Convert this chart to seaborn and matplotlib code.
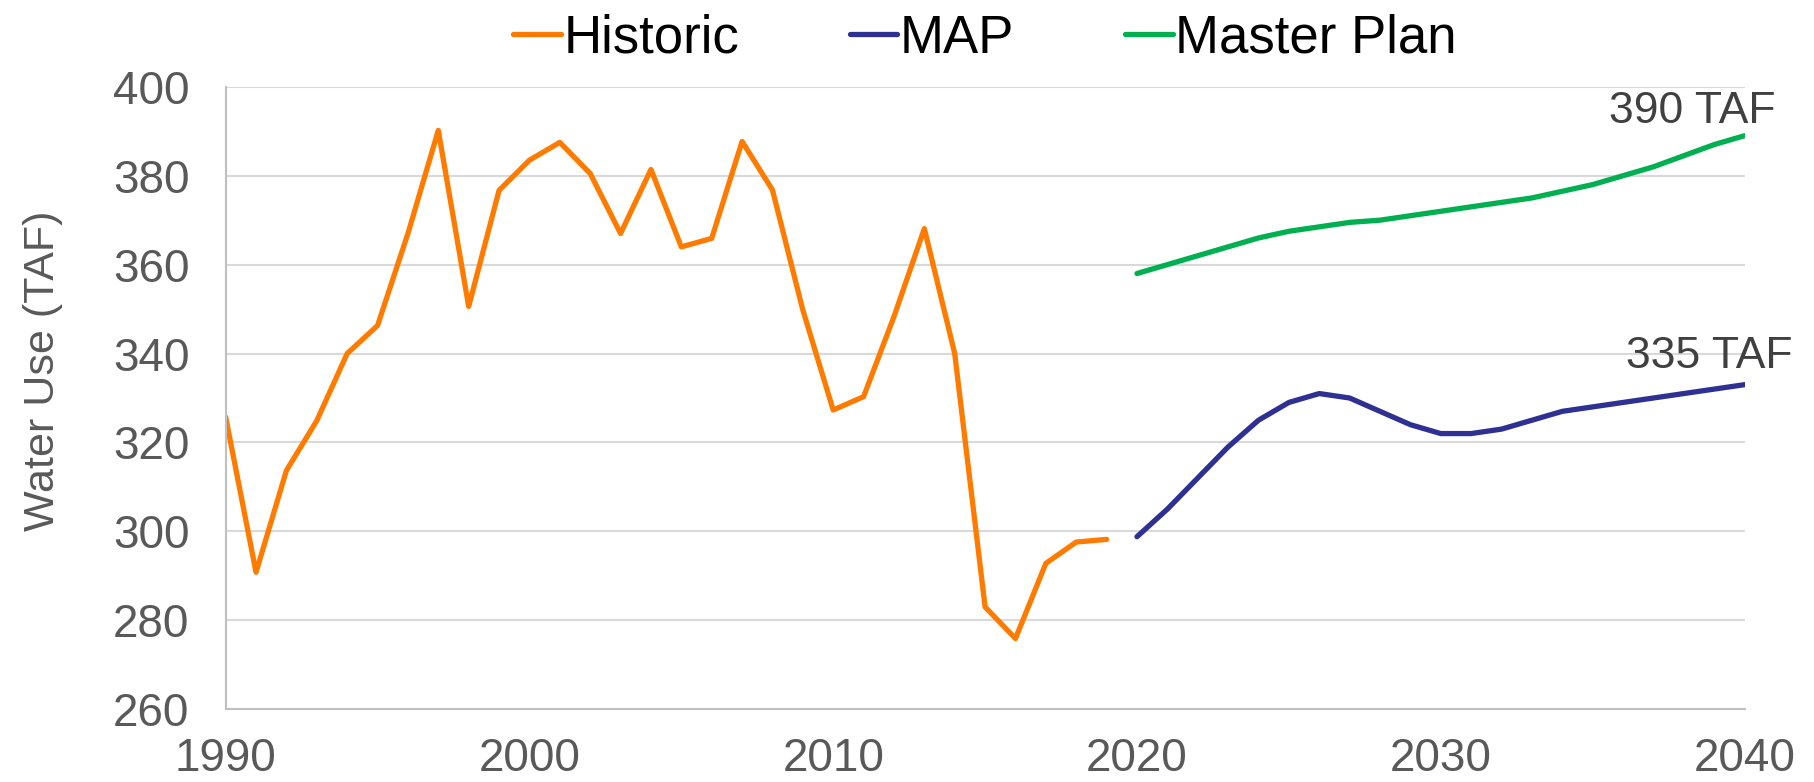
import numpy as np
import pandas as pd
import matplotlib
matplotlib.use("Agg")
import matplotlib.pyplot as plt
import seaborn as sns
from matplotlib.lines import Line2D

# values (TAF)
hist_years = list(range(1990, 2020))
hist_use = [325.7, 290.8, 313.7, 324.9, 340, 346.3, 367, 390.2, 350.6, 376.7,
            383.5, 387.5, 380.5, 367, 381.4, 364, 365.9, 387.7, 376.8, 349.8,
            327.3, 330.3, 348.3, 368.1, 340, 283, 275.9, 292.8, 297.6, 298.2]

plan_years = list(range(2020, 2041))
map_use = [298.8, 305, 312, 319, 325, 329, 331, 330, 327, 324,
           322, 322, 323, 325, 327, 328, 329, 330, 331, 332, 333]
master_use = [358, 360, 362, 364, 366, 367.5, 368.5, 369.5, 370, 371,
              372, 373, 374, 375, 376.5, 378, 380, 382, 384.5, 387, 389]

series = ["Historic", "MAP", "Master Plan"]
colors = {"Historic": "#FF7B00", "MAP": "#2E3192", "Master Plan": "#00B050"}

df = pd.concat([
    pd.DataFrame({"Year": hist_years, "Use": hist_use, "Series": "Historic"}),
    pd.DataFrame({"Year": plan_years, "Use": map_use, "Series": "MAP"}),
    pd.DataFrame({"Year": plan_years, "Use": master_use, "Series": "Master Plan"}),
])

sns.set_style("white")
plt.rcParams["font.family"] = ["Liberation Sans", "DejaVu Sans"]

fig = plt.figure(figsize=(18.14, 7.82), dpi=100)
ax = fig.add_axes([0.1244, 0.0931, 0.8373, 0.7959])

sns.lineplot(data=df, x="Year", y="Use", hue="Series", palette=colors,
             linewidth=3.8, legend=False, ax=ax)
for ln in ax.get_lines():
    ln.set_solid_joinstyle("round")
    ln.set_solid_capstyle("round")

ax.set_xlim(1990, 2040)
ax.set_ylim(260, 400)
ax.set_xticks(range(1990, 2041, 10))
ax.set_yticks(range(260, 401, 20))
ax.grid(axis="y", color="#D9D9D9", linewidth=1.5)
ax.set_axisbelow(True)
for s in ["top", "right"]:
    ax.spines[s].set_visible(False)
for s in ["left", "bottom"]:
    ax.spines[s].set_color("#BFBFBF")
    ax.spines[s].set_linewidth(1.5)
ax.tick_params(axis="both", length=0, labelsize=33, colors="#595959")
ax.tick_params(axis="x", pad=20)
ax.tick_params(axis="y", pad=26)
ax.set_xlabel("")
ax.set_ylabel("Water Use (TAF)", fontsize=31, color="#595959")
ax.yaxis.set_label_coords(-0.107, 0.543)

ax.text(2041.03, 394.4, "390 TAF", ha="right", va="center", fontsize=32,
        color="#404040", clip_on=False)
ax.text(2041.57, 339.3, "335 TAF", ha="right", va="center", fontsize=32,
        color="#404040", clip_on=False)

handles = [Line2D([0], [0], color=colors[s], linewidth=3.8) for s in series]
ax.legend(handles, series, loc="center", bbox_to_anchor=(0.5, 1.077),
          ncol=3, frameon=False, fontsize=38, handlelength=0.9,
          handletextpad=0.05, columnspacing=2.1, borderpad=0, borderaxespad=0,
          labelcolor="black")

fig.savefig("out.png", dpi=100)
